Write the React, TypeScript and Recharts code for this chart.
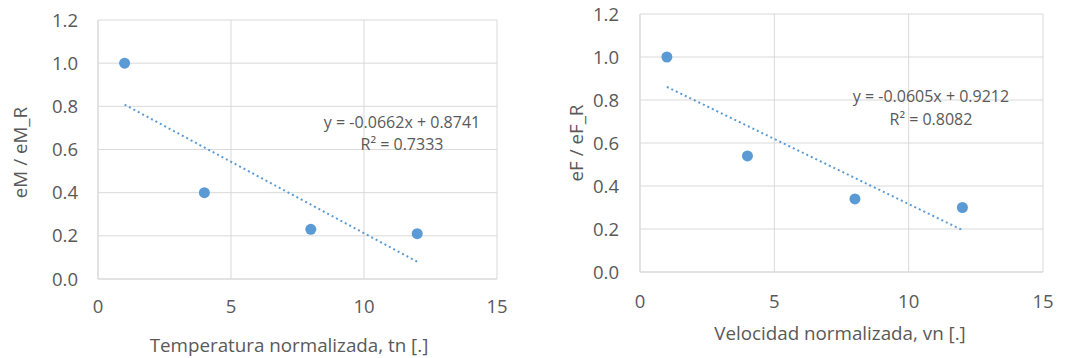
import React from "react";
import {
  ScatterChart,
  Scatter,
  XAxis,
  YAxis,
  CartesianGrid,
  ReferenceLine,
  ReferenceDot,
  Label,
} from "recharts";

// left chart: temperatura normalizada
const tnValues = [1, 4, 8, 12];
const emRatio = [1.0, 0.4, 0.23, 0.21];
const emTrendX = [1, 12];
const emTrendY = [0.808, 0.08];
const emEquation = "y = -0.0662x + 0.8741";
const emR2 = "R² = 0.7333";

// right chart: velocidad normalizada
const vnValues = [1, 4, 8, 12];
const efRatio = [1.0, 0.54, 0.34, 0.3];
const efTrendX = [1, 12];
const efTrendY = [0.861, 0.195];
const efEquation = "y = -0.0605x + 0.9212";
const efR2 = "R² = 0.8082";

const xTicks = [0, 5, 10, 15];
const yTicks = [0, 0.2, 0.4, 0.6, 0.8, 1.0, 1.2];

const FONT = "'Open Sans', sans-serif";
const TEXT = "#595959";
const GRID = "#d9d9d9";
const BLUE = "#5b9bd5";

const dot = (props: any) => (
  <circle cx={props.cx} cy={props.cy} r={5.5} fill={BLUE} />
);

const xTitle = (text: string, dx: number, baseline: number) => (props: any) => {
  const vb = props.viewBox;
  return (
    <text
      x={vb.x + vb.width / 2 + dx}
      y={baseline}
      textAnchor="middle"
      fill={TEXT}
      fontSize={18.8}
      fontFamily={FONT}
    >
      {text}
    </text>
  );
};

const yTitle = (text: string, cx: number, dy: number) => (props: any) => {
  const vb = props.viewBox;
  const cy = vb.y + vb.height / 2 + dy;
  return (
    <text
      x={cx}
      y={cy}
      transform={`rotate(-90 ${cx} ${cy})`}
      textAnchor="middle"
      dominantBaseline="central"
      fill={TEXT}
      fontSize={18.8}
      fontFamily={FONT}
    >
      {text}
    </text>
  );
};

interface PanelProps {
  xs: number[];
  ys: number[];
  trendX: number[];
  trendY: number[];
  equation: string;
  r2: string;
  eqPos: [number, number];
  r2Pos: [number, number];
  xLabel: string;
  yLabel: string;
  margin: { top: number; right: number; bottom: number; left: number };
  yWidth: number;
  xHeight: number;
  tickGap: number;
  xTickGap: number;
  xTitleDx: number;
  xTitleBase: number;
  yTitleX: number;
  yTitleDy: number;
}

function Panel(p: PanelProps) {
  const data = p.xs.map((x, i) => ({ x, y: p.ys[i] }));
  const tick = { fill: TEXT, fontSize: 18.5, fontFamily: FONT };
  const annot = { fill: TEXT, fontSize: 16, fontFamily: FONT };
  return (
    <ScatterChart width={534} height={358} margin={p.margin}>
      <CartesianGrid stroke={GRID} strokeWidth={1} />
      <XAxis
        type="number"
        dataKey="x"
        domain={[0, 15]}
        ticks={xTicks}
        height={p.xHeight}
        tickLine={false}
        tickSize={0}
        tickMargin={p.xTickGap}
        axisLine={{ stroke: GRID }}
        tick={tick}
      >
        <Label content={xTitle(p.xLabel, p.xTitleDx, p.xTitleBase)} />
      </XAxis>
      <YAxis
        type="number"
        dataKey="y"
        domain={[0, 1.2]}
        ticks={yTicks}
        width={p.yWidth}
        tickLine={false}
        tickSize={0}
        tickMargin={p.tickGap}
        axisLine={{ stroke: GRID }}
        tick={tick}
        tickFormatter={(v: number) => v.toFixed(1)}
      >
        <Label content={yTitle(p.yLabel, p.yTitleX, p.yTitleDy)} />
      </YAxis>
      <ReferenceLine
        segment={[
          { x: p.trendX[0], y: p.trendY[0] },
          { x: p.trendX[1], y: p.trendY[1] },
        ]}
        stroke={BLUE}
        strokeWidth={2}
        strokeDasharray="2 3"
      />
      <Scatter data={data} fill={BLUE} shape={dot} isAnimationActive={false} />
      <ReferenceDot x={p.eqPos[0]} y={p.eqPos[1]} r={0} stroke="none" fill="none">
        <Label value={p.equation} position="center" {...annot} />
      </ReferenceDot>
      <ReferenceDot x={p.r2Pos[0]} y={p.r2Pos[1]} r={0} stroke="none" fill="none">
        <Label value={p.r2} position="center" {...annot} />
      </ReferenceDot>
    </ScatterChart>
  );
}

export default function App() {
  return (
    <div style={{ position: "absolute", left: 0, top: 0, width: 1068, height: 358, background: "#fff" }}>
      <div style={{ position: "absolute", left: 0, top: 0 }}>
        <Panel
          xs={tnValues}
          ys={emRatio}
          trendX={emTrendX}
          trendY={emTrendY}
          equation={emEquation}
          r2={emR2}
          eqPos={[11.43, 0.728]}
          r2Pos={[11.43, 0.626]}
          xLabel="Temperatura normalizada, tn [.]"
          yLabel="eM / eM_R"
          margin={{ top: 20, right: 37, bottom: 0, left: 0 }}
          yWidth={98}
          xHeight={79}
          tickGap={20}
          xTickGap={21}
          xTitleDx={-8.5}
          xTitleBase={352}
          yTitleX={20}
          yTitleDy={3}
        />
      </div>
      <div style={{ position: "absolute", left: 534, top: 0 }}>
        <Panel
          xs={vnValues}
          ys={efRatio}
          trendX={efTrendX}
          trendY={efTrendY}
          equation={efEquation}
          r2={efR2}
          eqPos={[10.83, 0.815]}
          r2Pos={[10.83, 0.711]}
          xLabel="Velocidad normalizada, vn [.]"
          yLabel="eF / eF_R"
          margin={{ top: 14, right: 25, bottom: 0, left: 0 }}
          yWidth={106}
          xHeight={86}
          tickGap={21}
          xTickGap={23}
          xTitleDx={-1.5}
          xTitleBase={340}
          yTitleX={42}
          yTitleDy={0}
        />
      </div>
    </div>
  );
}
